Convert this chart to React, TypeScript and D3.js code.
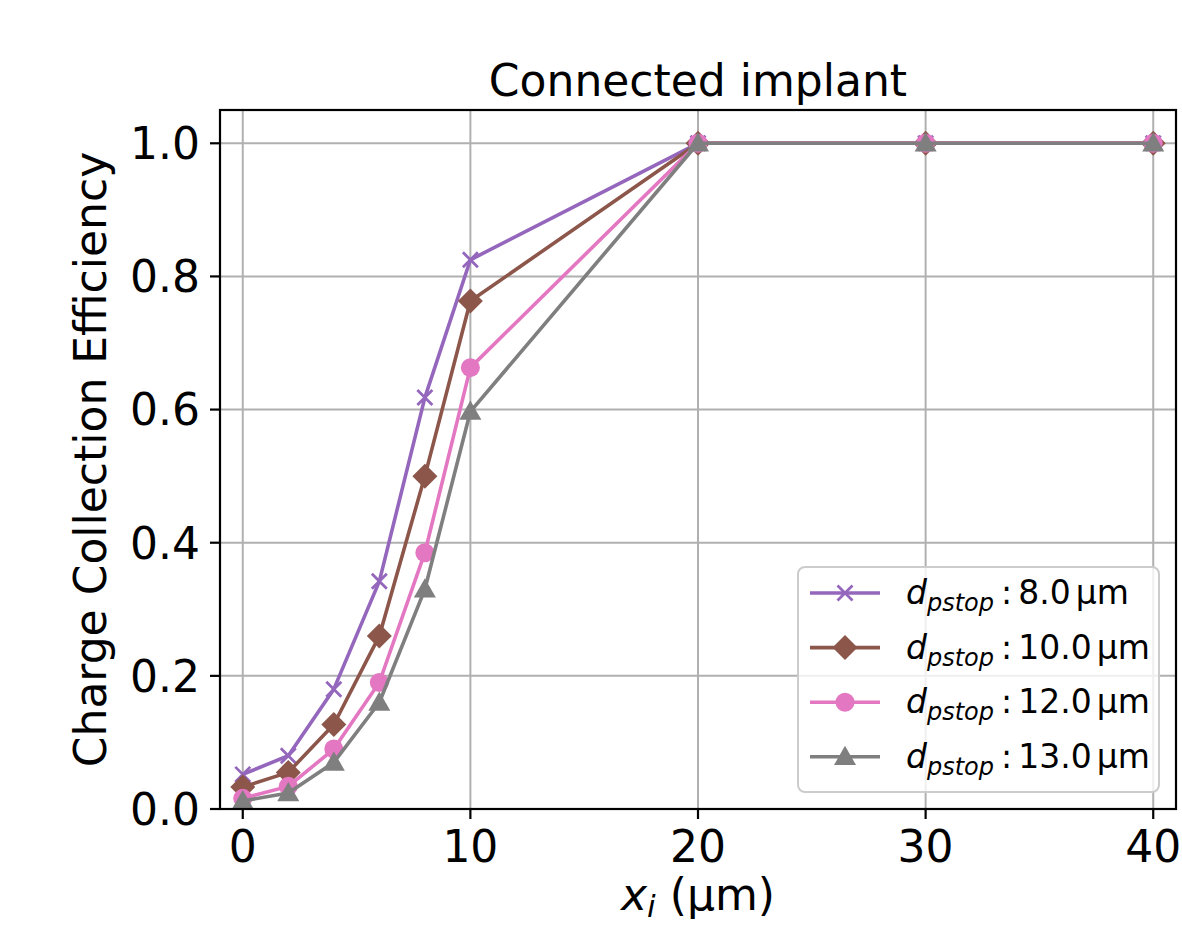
import React from "react";
import * as d3 from "d3";

const xValues = [0, 2, 4, 6, 8, 10, 20, 30, 40];
const cce8 = [0.052, 0.08, 0.18, 0.342, 0.618, 0.825, 1, 1, 1];
const cce10 = [0.033, 0.055, 0.127, 0.26, 0.5, 0.763, 1, 1, 1];
const cce12 = [0.016, 0.034, 0.09, 0.19, 0.385, 0.663, 1, 1, 1];
const cce13 = [0.012, 0.024, 0.07, 0.16, 0.33, 0.597, 1, 1, 1];
const seriesLabels = ["8.0", "10.0", "12.0", "13.0"];
const xTicks = [0, 10, 20, 30, 40];
const yTicks = [0, 0.2, 0.4, 0.6, 0.8, 1.0];

const W = 1182, H = 928;
const L = 220, R = 1176, T = 110, B = 809;
const FONT = "DejaVu Sans";

const series = [
  { values: cce8, color: "#9467bd", marker: "x", label: seriesLabels[0] },
  { values: cce10, color: "#8c564b", marker: "D", label: seriesLabels[1] },
  { values: cce12, color: "#e377c2", marker: "o", label: seriesLabels[2] },
  { values: cce13, color: "#7f7f7f", marker: "^", label: seriesLabels[3] },
];

function Marker({ type, x, y, color }: { type: string; x: number; y: number; color: string }) {
  if (type === "x") {
    const s = 7.5;
    return (
      <path d={`M${x - s},${y - s}L${x + s},${y + s}M${x - s},${y + s}L${x + s},${y - s}`} stroke={color} strokeWidth={2.8} fill="none" />
    );
  }
  if (type === "D") {
    const s = 12.5;
    return <path d={`M${x},${y - s}L${x + s},${y}L${x},${y + s}L${x - s},${y}Z`} fill={color} />;
  }
  if (type === "o") {
    return <circle cx={x} cy={y} r={9.5} fill={color} />;
  }
  const s = 11;
  return <path d={`M${x},${y - s}L${x + s},${y + s * 0.75}L${x - s},${y + s * 0.75}Z`} fill={color} />;
}

export default function App() {
  const xs = d3.scaleLinear().domain([-1, 41]).range([L, R]);
  const ys = d3.scaleLinear().domain([0, 1.05]).range([B, T]);
  const line = d3
    .line<[number, number]>()
    .x((d) => xs(d[0]))
    .y((d) => ys(d[1]));

  const legX = 798, legY = 567, legW = 361, legH = 225;
  const rowY = (i: number) => 593 + i * 54.6;

  return (
    <svg width={W} height={H} style={{ position: "absolute", left: 0, top: 0 }} fontFamily={FONT}>
      <rect x={0} y={0} width={W} height={H} fill="white" />
      {xTicks.map((t) => (
        <line key={"gx" + t} x1={xs(t)} x2={xs(t)} y1={T} y2={B} stroke="#b0b0b0" strokeWidth={2} />
      ))}
      {yTicks.map((t) => (
        <line key={"gy" + t} x1={L} x2={R} y1={ys(t)} y2={ys(t)} stroke="#b0b0b0" strokeWidth={2} />
      ))}
      {series.map((s, i) => {
        const pts = xValues.map((x, j) => [x, s.values[j]] as [number, number]);
        return (
          <g key={i}>
            <path d={line(pts) || ""} fill="none" stroke={s.color} strokeWidth={3.6} strokeLinejoin="round" />
            {pts.map((p, j) => (
              <Marker key={j} type={s.marker} x={xs(p[0])} y={ys(p[1])} color={s.color} />
            ))}
          </g>
        );
      })}
      <rect x={L} y={T} width={R - L} height={B - T} fill="none" stroke="black" strokeWidth={2.2} />
      {xTicks.map((t) => (
        <g key={"tx" + t}>
          <line x1={xs(t)} x2={xs(t)} y1={B} y2={B + 10} stroke="black" strokeWidth={2.2} />
          <text x={xs(t)} y={862} fontSize={44} textAnchor="middle" fill="black">
            {t}
          </text>
        </g>
      ))}
      {yTicks.map((t) => (
        <g key={"ty" + t}>
          <line x1={L - 10} x2={L} y1={ys(t)} y2={ys(t)} stroke="black" strokeWidth={2.2} />
          <text x={L - 20} y={ys(t)} dy="0.36em" fontSize={44} textAnchor="end" fill="black">
            {t.toFixed(1)}
          </text>
        </g>
      ))}
      <text x={(L + R) / 2} y={96} fontSize={44} textAnchor="middle" fill="black">
        Connected implant
      </text>
      <text x={698} y={910} fontSize={44} textAnchor="middle" fill="black">
        <tspan fontStyle="italic">x</tspan>
        <tspan fontStyle="italic" fontSize={31} dy={7}>i</tspan>
        <tspan dy={-7}> (μm)</tspan>
      </text>
      <text transform={`translate(106,${(T + B) / 2}) rotate(-90)`} fontSize={44} textAnchor="middle" fill="black">
        Charge Collection Efficiency
      </text>
      <rect x={legX} y={legY} width={legW} height={legH} rx={7} fill="white" fillOpacity={0.8} stroke="#cccccc" strokeWidth={2} />
      {series.map((s, i) => (
        <g key={"lg" + i}>
          <line x1={810} x2={880} y1={rowY(i)} y2={rowY(i)} stroke={s.color} strokeWidth={3.6} />
          <Marker type={s.marker} x={845} y={rowY(i)} color={s.color} />
          <text x={906} y={rowY(i) + 11} fontSize={33} fill="black">
            <tspan fontStyle="italic">d</tspan>
            <tspan fontStyle="italic" fontSize={24} dy={7}>pstop</tspan>
            <tspan dy={-7} dx={7}>:</tspan>
            <tspan dx={6}>{s.label}</tspan>
            <tspan dx={5}>μm</tspan>
          </text>
        </g>
      ))}
    </svg>
  );
}
